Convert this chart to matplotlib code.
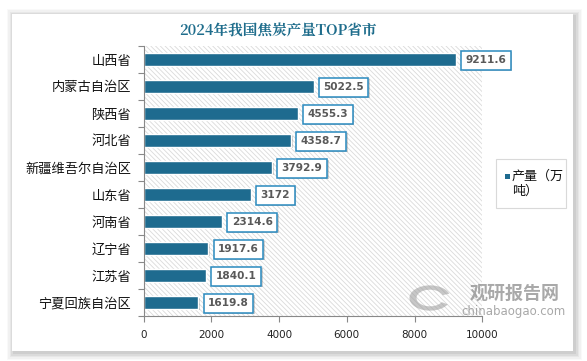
import matplotlib
matplotlib.use("Agg")
import matplotlib.pyplot as plt
from matplotlib.patches import Rectangle
import matplotlib.patheffects as pe
import matplotlib.transforms as mtransforms

plt.rcParams['font.family'] = ['Noto Sans CJK SC', 'DejaVu Sans']
plt.rcParams['hatch.linewidth'] = 0.6

categories = ["山西省", "内蒙古自治区", "陕西省", "河北省", "新疆维吾尔自治区",
              "山东省", "河南省", "辽宁省", "江苏省", "宁夏回族自治区"]
values = [9211.6, 5022.5, 4555.3, 4358.7, 3792.9, 3172, 2314.6, 1917.6, 1840.1, 1619.8]
value_labels = ["9211.6", "5022.5", "4555.3", "4358.7", "3792.9", "3172",
                "2314.6", "1917.6", "1840.1", "1619.8"]
xticks = [0, 2000, 4000, 6000, 8000, 10000]
title = "2024年我国焦炭产量TOP省市"
legend_line1 = "产量（万"
legend_line2 = "吨）"

W, H = 587, 361
fig = plt.figure(figsize=(W / 100, H / 100), dpi=100, facecolor='white')

# card shadow + card
for i, a in enumerate([0.025, 0.03, 0.04, 0.05, 0.06]):
    d = 7 - i * 1.4
    fig.patches.append(Rectangle(((12 - d + 2) / W, (H - 351 - d - 2) / H),
                                 (561 + 2 * d) / W, (337 + 2 * d) / H,
                                 transform=fig.transFigure, facecolor='black',
                                 alpha=a, edgecolor='none', zorder=0))
fig.patches.append(Rectangle((12 / W, (H - 351) / H), 561 / W, 337 / H,
                             transform=fig.transFigure, facecolor='white',
                             edgecolor='none', zorder=1))

ax = fig.add_axes([143.5 / W, 1 - 316 / H, (482.3 - 143.5) / W, (316 - 46) / H])
ax.set_zorder(2)
ax.patch.set_alpha(0)

# hatched plot area
ax.add_patch(Rectangle((0, 0), 1, 1, transform=ax.transAxes, facecolor='white',
                       edgecolor='#dadada', hatch='\\' * 7, lw=0, zorder=0))

y = list(range(len(categories)))
bar_color = '#1e6b8f'
shadow_tr = ax.transData + mtransforms.ScaledTranslation(1.5 / 100, -1.5 / 100, fig.dpi_scale_trans)
ax.barh(y, values, height=0.45, color='#000000', alpha=0.18, zorder=1, transform=shadow_tr)
ax.barh(y, values, height=0.45, color=bar_color, edgecolor='white', lw=1.0, zorder=2)

for yi, v, lab in zip(y, values, value_labels):
    t = ax.annotate(lab, xy=(v, yi), xytext=(7.0, -0.5), textcoords='offset points',
                    ha='left', va='center', fontsize=7.6, fontweight='bold',
                    color='#595959', family='DejaVu Sans', zorder=5,
                    bbox=dict(boxstyle='square,pad=0.42', facecolor='white',
                              edgecolor='#2a8abf', lw=1.1))
    t.get_bbox_patch().set_path_effects([pe.SimplePatchShadow(offset=(1.2, -1.2), alpha=0.25), pe.Normal()])

ax.set_xlim(0, 10000)
ax.set_ylim(len(categories) - 0.5, -0.5)
ax.set_xticks(xticks)
ax.set_xticklabels([str(t) for t in xticks], fontsize=7.5, family='DejaVu Sans', color='#222222')
ax.set_yticks(y)
ax.set_yticklabels(categories, fontsize=9.5, color='#111111')
ax.tick_params(axis='y', length=0, pad=9)
ax.set_yticks([i - 0.5 for i in range(len(categories) + 1)], minor=True)
ax.tick_params(axis='y', which='minor', length=4, color='#888888', width=0.8)
ax.tick_params(axis='x', length=4, color='#888888', width=0.8, pad=6)
for s in ['top', 'right']:
    ax.spines[s].set_visible(False)
for s in ['left', 'bottom']:
    ax.spines[s].set_color('#888888')
    ax.spines[s].set_linewidth(0.8)

fig.text(278 / W, 1 - 31 / H, title, ha='center', va='center', fontsize=10.5,
         fontweight='bold', color='#1f6d8c', family=['Noto Serif CJK SC', 'Noto Sans CJK SC', 'DejaVu Serif'])

# legend
fig.patches.append(Rectangle((496 / W, 1 - 208 / H), 70 / W, 49 / H, transform=fig.transFigure,
                             facecolor='white', edgecolor='#d9d9d9', lw=0.8, zorder=3))
fig.patches.append(Rectangle((505.5 / W, 1 - 178.5 / H), 4.5 / W, 4.5 / H, transform=fig.transFigure,
                             facecolor=bar_color, edgecolor='none', zorder=4))
fig.text(512 / W, 1 - 176.5 / H, legend_line1, ha='left', va='center', fontsize=9.4,
         color='#111111', zorder=5)
fig.text(512 / W, 1 - 191 / H, legend_line2, ha='left', va='center', fontsize=9.4,
         color='#111111', zorder=5)

# watermark
fig.text(515 / W, 1 - 293 / H, "观研报告网", ha='center', va='center', fontsize=13,
         fontweight='bold', color='#8c8c8c', alpha=0.75, zorder=6)
fig.text(514 / W, 1 - 311 / H, "chinabaogao.com", ha='center', va='center', fontsize=8.5,
         color='#8c8c8c', alpha=0.75, family='DejaVu Sans', zorder=6)
fig.patches.append(matplotlib.patches.Wedge((430 / W, 1 - 298 / H), 0.035, 20, 330, width=0.012,
                                            transform=fig.transFigure, facecolor='#9a9a9a',
                                            alpha=0.55, edgecolor='none', zorder=6))

fig.savefig('out.png', dpi=100, facecolor='white')
